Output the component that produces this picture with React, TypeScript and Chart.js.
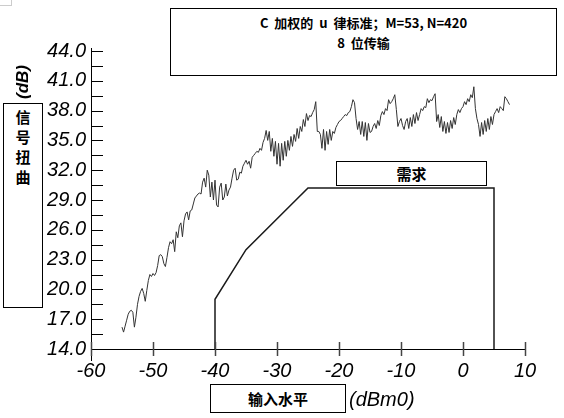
import { useEffect, useRef } from 'react';
import { Chart, registerables } from 'chart.js';

Chart.register(...registerables);

// 输入电平 (dBm0)
const inputLevel = [
  -55, -54.75, -54.5, -54.25, -54, -53.75, -53.5, -53.25,
  -53, -52.75, -52.5, -52.25, -52, -51.75, -51.5, -51.25,
  -51, -50.75, -50.5, -50.25, -50, -49.75, -49.5, -49.25,
  -49, -48.75, -48.5, -48.25, -48, -47.75, -47.5, -47.25,
  -47, -46.75, -46.5, -46.25, -46, -45.75, -45.5, -45.25,
  -45, -44.75, -44.5, -44.25, -44, -43.75, -43.5, -43.25,
  -43, -42.75, -42.5, -42.25, -42, -41.75, -41.5, -41.25,
  -41, -40.75, -40.5, -40.25, -40, -39.75, -39.5, -39.25,
  -39, -38.75, -38.5, -38.25, -38, -37.75, -37.5, -37.25,
  -37, -36.75, -36.5, -36.25, -36, -35.75, -35.5, -35.25,
  -35, -34.75, -34.5, -34.25, -34, -33.75, -33.5, -33.25,
  -33, -32.75, -32.5, -32.25, -32, -31.75, -31.5, -31.25,
  -31, -30.75, -30.5, -30.25, -30, -29.75, -29.5, -29.25,
  -29, -28.75, -28.5, -28.25, -28, -27.75, -27.5, -27.25,
  -27, -26.75, -26.5, -26.25, -26, -25.75, -25.5, -25.25,
  -25, -24.75, -24.5, -24.25, -24, -23.75, -23.5, -23.25,
  -23, -22.75, -22.5, -22.25, -22, -21.75, -21.5, -21.25,
  -21, -20.75, -20.5, -20.25, -20, -19.75, -19.5, -19.25,
  -19, -18.75, -18.5, -18.25, -18, -17.75, -17.5, -17.25,
  -17, -16.75, -16.5, -16.25, -16, -15.75, -15.5, -15.25,
  -15, -14.75, -14.5, -14.25, -14, -13.75, -13.5, -13.25,
  -13, -12.75, -12.5, -12.25, -12, -11.75, -11.5, -11.25,
  -11, -10.75, -10.5, -10.25, -10, -9.75, -9.5, -9.25,
  -9, -8.75, -8.5, -8.25, -8, -7.75, -7.5, -7.25,
  -7, -6.75, -6.5, -6.25, -6, -5.75, -5.5, -5.25,
  -5, -4.75, -4.5, -4.25, -4, -3.75, -3.5, -3.25,
  -3, -2.75, -2.5, -2.25, -2, -1.75, -1.5, -1.25,
  -1, -0.75, -0.5, -0.25, 0, 0.25, 0.5, 0.75,
  1, 1.25, 1.5, 1.75, 2, 2.25, 2.5, 2.75,
  3, 3.25, 3.5, 3.75, 4, 4.25, 4.5, 4.75,
  5, 5.25, 5.5, 5.75, 6, 6.25, 6.5, 6.75,
  7, 7.25, 7.5,
];

// 信号失真 (dB)
const distortion = [
  16.2, 15.7, 16.3, 16.9, 17.5, 17.8, 17.9, 17.7,
  16.2, 17.2, 18.5, 19.3, 19.8, 20.1, 19.6, 18.8,
  19.9, 20.9, 21.5, 21.3, 21.6, 21.4, 21.7, 22.4,
  23.4, 23.5, 23.3, 22.6, 22.3, 23.2, 24.2, 24.8,
  24.6, 25.0, 23.8, 25.8, 25.2, 26.4, 26.7, 25.3,
  26.9, 27.6, 27.8, 27.0, 27.9, 28.0, 28.6, 29.2,
  29.4, 29.6, 29.7, 29.6, 30.8, 31.2, 30.3, 32.0,
  31.5, 29.3, 30.8, 29.0, 31.0, 28.5, 28.3, 30.3,
  30.7, 29.0, 29.3, 30.6, 29.4, 30.0, 30.3, 31.2,
  32.0, 32.2, 31.0, 31.1, 31.8, 31.7, 32.4, 32.7,
  33.0, 32.6, 32.9, 32.2, 33.3, 33.5, 33.7, 33.9,
  33.8, 34.2, 34.0, 34.8, 35.2, 36.0, 35.0, 35.9,
  33.9, 35.2, 33.4, 34.9, 32.6, 34.7, 32.4, 34.7,
  33.0, 34.9, 33.4, 35.0, 34.0, 35.4, 34.4, 35.6,
  34.9, 36.2, 35.2, 36.4, 35.9, 37.1, 36.4, 37.7,
  37.0, 37.5, 37.4, 37.8, 38.1, 38.9, 35.9, 35.9,
  35.6, 34.2, 36.1, 34.0, 35.9, 34.6, 36.1, 35.0,
  35.9, 35.7, 36.3, 36.6, 36.9, 37.0, 37.2, 37.4,
  37.6, 37.5, 37.8, 37.9, 38.4, 39.1, 38.8, 37.2,
  36.1, 36.9, 35.6, 36.9, 35.4, 36.8, 35.0, 36.7,
  35.8, 35.9, 36.4, 36.7, 36.2, 37.0, 36.5, 37.5,
  37.9, 37.6, 38.2, 38.0, 39.1, 38.7, 38.9, 39.2,
  39.6, 38.1, 36.4, 36.9, 37.2, 36.5, 36.1, 36.9,
  37.2, 36.2, 37.3, 36.4, 37.6, 36.7, 37.8, 37.0,
  37.6, 38.2, 38.0, 38.4, 38.3, 39.2, 38.8, 39.1,
  39.0, 39.4, 39.7, 36.9, 37.6, 36.3, 37.4, 35.9,
  36.9, 35.7, 36.8, 35.8, 37.0, 36.2, 37.3, 36.6,
  37.6, 38.1, 37.8, 38.2, 38.4, 38.9, 38.6, 39.2,
  38.9, 39.6, 39.3, 40.4, 38.2, 37.2, 36.6, 35.4,
  36.8, 35.6, 37.0, 35.9, 37.2, 36.1, 37.4, 36.6,
  37.6, 37.9, 38.2, 37.8, 38.4, 38.2, 38.0, 39.4,
  39.2, 38.9, 38.6,
];

// 需求模板
const maskLevel = [-40, -40, -35, -25, 5, 5];
const maskDistortion = [14, 19, 24, 30.2, 30.2, 14];

const xTicks = [-60, -50, -40, -30, -20, -10, 0, 10];
const yTicks = [14, 15.5, 17, 18.5, 20, 21.5, 23, 24.5, 26, 27.5, 29, 30.5, 32, 33.5, 35, 36.5, 38, 39.5, 41, 42.5, 44];
const yLabelled = [14, 17, 20, 23, 26, 29, 32, 35, 38, 41, 44];

const tickFont = { family: '"Liberation Sans", Arial, sans-serif', size: 20, style: 'italic' as const };

const axisPlugin = {
  id: 'axisMarks',
  afterDraw(chart: Chart) {
    const { ctx, chartArea } = chart;
    const x = chart.scales.x;
    const y = chart.scales.y;
    ctx.save();
    ctx.strokeStyle = '#000';
    ctx.lineWidth = 1;
    ctx.beginPath();
    ctx.moveTo(chartArea.left + 0.5, chartArea.top - 3);
    ctx.lineTo(chartArea.left + 0.5, chartArea.bottom + 12);
    ctx.moveTo(chartArea.left, chartArea.bottom + 0.5);
    ctx.lineTo(chartArea.right, chartArea.bottom + 0.5);
    yTicks.forEach((v) => {
      const py = Math.round(y.getPixelForValue(v)) + 0.5;
      ctx.moveTo(chartArea.left, py);
      ctx.lineTo(chartArea.left + 12, py);
    });
    ctx.stroke();
    ctx.strokeStyle = '#444';
    ctx.lineWidth = 1.5;
    ctx.beginPath();
    xTicks.forEach((v) => {
      const px = Math.round(x.getPixelForValue(v)) + 0.5;
      ctx.moveTo(px, chartArea.bottom - 7);
      ctx.lineTo(px, chartArea.bottom + 7);
    });
    ctx.stroke();
    ctx.restore();
  },
};

const box: React.CSSProperties = {
  position: 'absolute',
  boxSizing: 'border-box',
  border: '1px solid #000',
  background: '#fff',
  color: '#000',
  textAlign: 'center',
};

const cjk = '"Noto Sans CJK SC", "Liberation Sans", sans-serif';

export default function App() {
  const canvasRef = useRef<HTMLCanvasElement>(null);

  useEffect(() => {
    document.body.style.margin = '0';
    if (!canvasRef.current) return;
    const ctx = canvasRef.current.getContext('2d');
    if (!ctx) return;

    const chart = new Chart(ctx, {
      type: 'scatter',
      data: {
        datasets: [
          {
            data: inputLevel.map((v, i) => ({ x: v, y: distortion[i] })),
            showLine: true,
            borderColor: '#333',
            borderWidth: 1,
            pointRadius: 0,
            tension: 0,
          },
          {
            data: maskLevel.map((v, i) => ({ x: v, y: maskDistortion[i] })),
            showLine: true,
            borderColor: '#1a1a1a',
            borderWidth: 1.5,
            pointRadius: 0,
            tension: 0,
          },
        ],
      },
      options: {
        animation: false,
        responsive: false,
        layout: { padding: { left: 0, top: 51, right: 39, bottom: 0 } },
        plugins: { legend: { display: false }, tooltip: { enabled: false } },
        scales: {
          x: {
            type: 'linear',
            min: -60,
            max: 10,
            afterFit: (s: any) => { s.height = 69; },
            afterBuildTicks: (s: any) => { s.ticks = xTicks.map((v) => ({ value: v })); },
            grid: { display: false, drawTicks: false },
            border: { display: false },
            ticks: { font: tickFont, color: '#000', padding: 10, autoSkip: false, maxRotation: 0 },
          },
          y: {
            type: 'linear',
            min: 14,
            max: 44,
            afterFit: (s: any) => { s.width = 91; },
            afterBuildTicks: (s: any) => { s.ticks = yTicks.map((v) => ({ value: v })); },
            grid: { display: false, drawTicks: false },
            border: { display: false },
            ticks: {
              font: tickFont,
              color: '#000',
              padding: 5,
              autoSkip: false,
              callback: (v: any) => (yLabelled.includes(Number(v)) ? Number(v).toFixed(1) : ''),
            },
          },
        },
      },
      plugins: [axisPlugin],
    });

    return () => chart.destroy();
  }, []);

  return (
    <div style={{ position: 'relative', width: 564, height: 418, background: '#fff', overflow: 'hidden' }}>
      <canvas ref={canvasRef} width={564} height={418} style={{ position: 'absolute', left: 0, top: 0 }} />
      <div style={{ position: 'absolute', left: 0, top: 0, width: 11, height: 5, borderRight: '1px solid #ccc', borderBottom: '1px solid #ccc' }} />

      <div style={{ ...box, left: 170, top: 8, width: 387, height: 68, paddingTop: 4, fontFamily: cjk, fontWeight: 700, fontSize: 13, lineHeight: '20px', whiteSpace: 'pre' }}>
        <div>{'C  加权的  u  律标准；M=53, N=420'}</div>
        <div>{'8  位传输'}</div>
      </div>

      <div style={{ ...box, left: 3, top: 103, width: 40, height: 205, paddingTop: 3, fontFamily: cjk, fontWeight: 700, fontSize: 15, lineHeight: '20px' }}>
        <div>信</div>
        <div>号</div>
        <div>扭</div>
        <div>曲</div>
      </div>
      <div style={{ position: 'absolute', left: 23, top: 82, transform: 'translate(-50%, -50%) rotate(-90deg)', fontFamily: '"Liberation Sans", Arial, sans-serif', fontStyle: 'italic', fontWeight: 700, fontSize: 17, lineHeight: '18px', whiteSpace: 'nowrap' }}>
        (dB)
      </div>

      <div style={{ ...box, left: 336, top: 161, width: 151, height: 25, fontFamily: cjk, fontWeight: 700, fontSize: 15, lineHeight: '23px' }}>
        需求
      </div>

      <div style={{ ...box, left: 210, top: 384, width: 136, height: 29, fontFamily: cjk, fontWeight: 700, fontSize: 15, lineHeight: '27px' }}>
        输入水平
      </div>
      <div style={{ position: 'absolute', left: 349, top: 389, fontFamily: '"Liberation Sans", Arial, sans-serif', fontStyle: 'italic', fontSize: 20, lineHeight: '20px', whiteSpace: 'nowrap' }}>
        (dBm0)
      </div>
    </div>
  );
}
